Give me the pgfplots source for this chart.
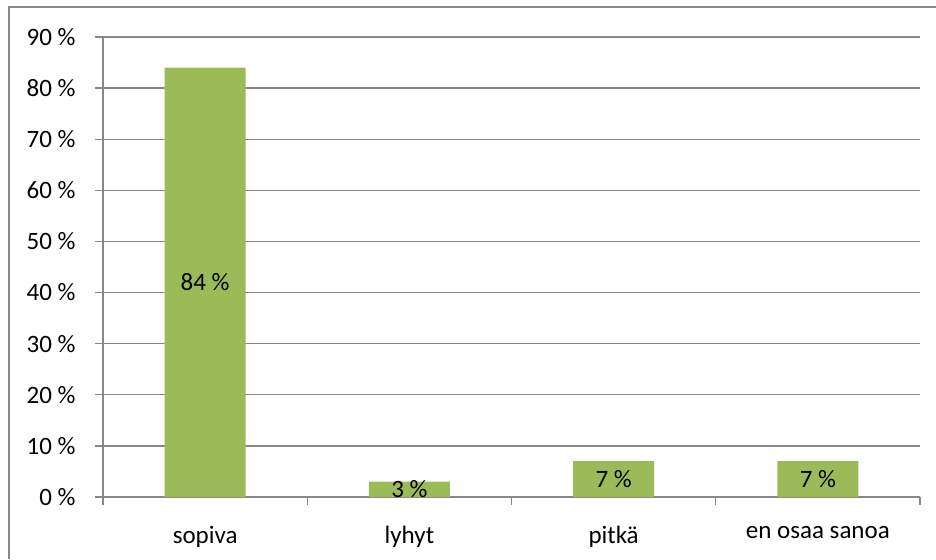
\documentclass[border=0pt]{standalone}
\usepackage{fontspec}
\setmainfont{Carlito}
\usepackage{pgfplots}
\pgfplotsset{compat=1.18}
\definecolor{bargreen}{HTML}{9BBB59}
\definecolor{gridgray}{HTML}{878787}
\begin{document}
\fontsize{25}{30}\selectfont
\begin{tikzpicture}
\begin{axis}[
  scale only axis, width=817pt, height=460pt,
  xmin=-0.5, xmax=3.5, ymin=0, ymax=90,
  axis x line*=bottom, axis y line*=left,
  axis line style={gridgray, line width=1.3pt},
  ymajorgrids, grid style={gridgray, line width=1.3pt},
  tick align=outside, major tick length=8pt,
  tick style={gridgray, line width=1.3pt},
  ytick={0,10,...,90},
  yticklabels={0 \%,10 \%,20 \%,30 \%,40 \%,50 \%,60 \%,70 \%,80 \%,90 \%},
  yticklabel style={xshift=-11pt},
  xticklabel style={yshift=-21pt},
  xtick={-0.5,0.5,1.5,2.5,3.5},
  xticklabels={,,,,},
  extra x ticks={0,1,2,3},
  extra x tick labels={sopiva,lyhyt,pitkä,en osaa sanoa},
  extra x tick style={major tick length=0pt, grid=none},
  /pgf/number format/assume math mode=true,
  clip=false,
]
\addplot[ybar, bar width=81pt, bar shift=0pt, fill=bargreen, draw=none]
  coordinates {(0,84) (1,3) (2,7) (3,7)};
\addplot[draw=none, mark=none, nodes near coords, point meta=explicit symbolic,
  every node near coord/.append style={anchor=center, text=black}]
  coordinates {(0,42)[84 \%] (1,1.5)[3 \%] (2,3.5)[7 \%] (3,3.5)[7 \%]};
\end{axis}
\pgfresetboundingbox
\useasboundingbox (-103pt,-62pt) rectangle ++(936pt,559pt);
\draw[gridgray, line width=1.3pt] (-94pt,-62pt) -- (-94pt,490pt) -- (833pt,490pt);
\end{tikzpicture}
\end{document}
